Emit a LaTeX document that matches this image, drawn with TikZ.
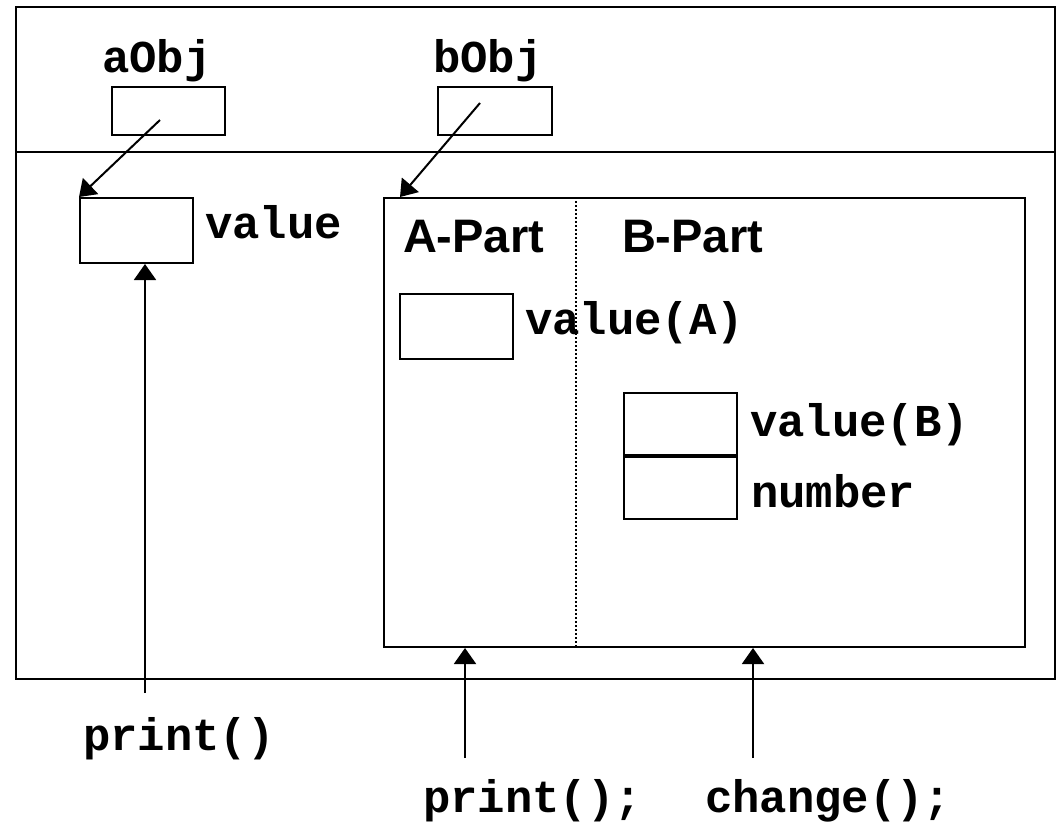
\documentclass[tikz,border=0pt]{standalone}
\usepackage{fontspec}
\setmainfont{Liberation Sans}
\newfontfamily\courfont{Liberation Mono}
\usetikzlibrary{arrows.meta,calc}
\begin{document}
\begin{tikzpicture}[x=1pt,y=-1pt,line width=2pt,
  box/.style={draw,line width=2pt,inner sep=0pt},
  code/.style={font=\courfont\bfseries\fontsize{45.6}{50}\selectfont,inner sep=0pt,anchor=base west},
  part/.style={font=\bfseries\fontsize{47}{52}\selectfont,inner sep=0pt,anchor=base west},
  ptr/.style={draw,line width=2pt,-{Triangle[length=16pt,width=22pt]}},
  sep/.style={draw,line width=2pt,dash pattern=on 2pt off 2pt}]
\useasboundingbox (0,0) rectangle (1057,822);
\fill[white] (0,0) rectangle (1057,822);
% outer frame
\node[box,minimum width=1039pt,minimum height=672pt] (outer) at (535.5,343) {};
\coordinate (dl) at (16,152);
\coordinate (dr) at (1055,152);
\draw (dl) -- (dr);
% reference variables
\node[box,minimum width=113pt,minimum height=48pt] (aobj) at (168.5,111) {};
\node[box,minimum width=114pt,minimum height=48pt] (bobj) at (495,111) {};
\node[code] (laobj) at (101,72) {aObj};
\node[code] (lbobj) at (432,72) {bObj};
% A object
\node[box,minimum width=113pt,minimum height=65pt] (val) at (136.5,230.5) {};
\node[code] (lval) at (204,238) {value};
% B object
\node[box,minimum width=641pt,minimum height=449pt] (big) at (704.5,422.5) {};
\draw[sep] ($(big.north west)+(193,0)$) -- ($(big.south west)+(193,0)$);
\node[part] (apart) at (402,252) {A-Part};
\node[part] (bpart) at (621,252) {B-Part};
\node[box,minimum width=113pt,minimum height=65pt] (vala) at (456.5,326.5) {};
\node[code] (lvala) at (524,334) {value(A)};
\node[box,minimum width=113pt,minimum height=62pt] (valb) at (680.5,424) {};
\node[box,minimum width=113pt,minimum height=62pt] (num) at (680.5,488) {};
\node[code] (lvalb) at (749,436) {value(B)};
\node[code] (lnum) at (750,507) {number};
% pointers
\draw[ptr] ($(aobj.center)+(-8.5,9)$) -- (val.north west);
\coordinate (btip) at ($(big.north west)+(17,0)$);
\draw[ptr] ($(bobj.center)+(-15,-8)$) -- (btip);
% method calls
\coordinate (p1) at (145,693);
\coordinate (p2) at (465,758);
\coordinate (p3) at (753,758);
\draw[ptr] (p1) -- (p1 |- val.south);
\draw[ptr] (p2) -- (p2 |- big.south);
\draw[ptr] (p3) -- (p3 |- big.south);
\node[code] (lp1) at (82,750) {print()};
\node[code] (lp2) at (422,812) {print();};
\node[code] (lp3) at (704,812) {change();};
\end{tikzpicture}
\end{document}
